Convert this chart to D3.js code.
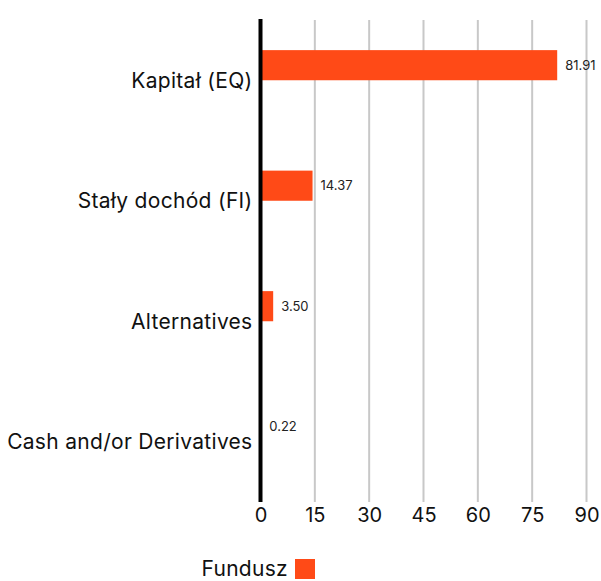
<!DOCTYPE html>
<html>
<head>
<meta charset="utf-8">
<script src="https://cdn.jsdelivr.net/npm/d3@7"></script>
<style>
  body { margin: 0; background: #fff; }
  svg text { font-family: Inter, "Open Sans", sans-serif; }
</style>
</head>
<body>
<svg width="601" height="581"></svg>
<script>
const categories = ["Kapitał (EQ)", "Stały dochód (FI)", "Alternatives", "Cash and/or Derivatives"];
const fundValues = [81.91, 14.37, 3.50, 0.22];
const seriesNames = ["Fundusz", "Benchmark"];
const xTicks = [0, 15, 30, 45, 60, 75, 90];

const svg = d3.select("svg");
const margin = { top: 20, left: 260.5, right: 14.5, bottom: 79 };
const width = 601, height = 581;
const color = "#ff4a17";

const x = d3.scaleLinear().domain([0, 90]).range([margin.left, width - margin.right]);
const y0 = d3.scaleBand().domain(categories).range([margin.top, height - margin.bottom]);
const y1 = d3.scaleBand().domain(seriesNames)
    .range([y0.bandwidth() * 0.25, y0.bandwidth() * 0.75]);

const data = categories.map((c, i) => ({ category: c, value: fundValues[i] }));

// gridlines
svg.append("g")
    .selectAll("line")
    .data(xTicks.slice(1))
    .enter()
    .append("line")
    .attr("x1", d => x(d))
    .attr("x2", d => x(d))
    .attr("y1", margin.top)
    .attr("y2", height - margin.bottom)
    .attr("stroke", "#c8c8c8")
    .attr("stroke-width", 2);

// bars
svg.append("g")
    .selectAll("rect")
    .data(data)
    .enter()
    .append("rect")
    .attr("x", x(0))
    .attr("y", d => y0(d.category) + y1("Fundusz"))
    .attr("width", d => x(d.value) - x(0))
    .attr("height", y1.bandwidth())
    .attr("fill", color);

// value labels
svg.append("g")
    .selectAll("text")
    .data(data)
    .enter()
    .append("text")
    .attr("x", d => x(d.value) + 8)
    .attr("y", d => y0(d.category) + y1("Fundusz") + y1.bandwidth() / 2)
    .attr("dy", "0.35em")
    .attr("font-size", 13)
    .attr("fill", "#222")
    .text(d => d.value.toFixed(2));

// y axis
const yAxis = svg.append("g")
    .attr("transform", `translate(${x(0)},0)`)
    .call(d3.axisLeft(y0).tickSize(0).tickPadding(8));
yAxis.select(".domain").attr("stroke", "#000").attr("stroke-width", 4)
    .attr("d", `M0,${margin.top - 1}V${height - margin.bottom}`);
yAxis.selectAll("text")
    .attr("font-size", 21)
    .attr("letter-spacing", "0.3px")
    .attr("fill", "#111")
    .attr("dy", "0.35em");

// x axis
const xAxis = svg.append("g")
    .attr("transform", `translate(0,${height - margin.bottom})`)
    .call(d3.axisBottom(x).tickValues(xTicks).tickSize(0).tickPadding(6));
xAxis.select(".domain").remove();
xAxis.selectAll("text")
    .attr("font-size", 20)
    .attr("fill", "#111");

// legend
const legend = svg.append("g").attr("transform", "translate(295,559)");
legend.append("rect")
    .attr("width", 20)
    .attr("height", 20)
    .attr("fill", color);
legend.append("text")
    .attr("x", -7)
    .attr("y", 10)
    .attr("dy", "0.35em")
    .attr("text-anchor", "end")
    .attr("font-size", 21)
    .attr("letter-spacing", "0.3px")
    .attr("fill", "#111")
    .text(seriesNames[0]);
</script>
</body>
</html>
